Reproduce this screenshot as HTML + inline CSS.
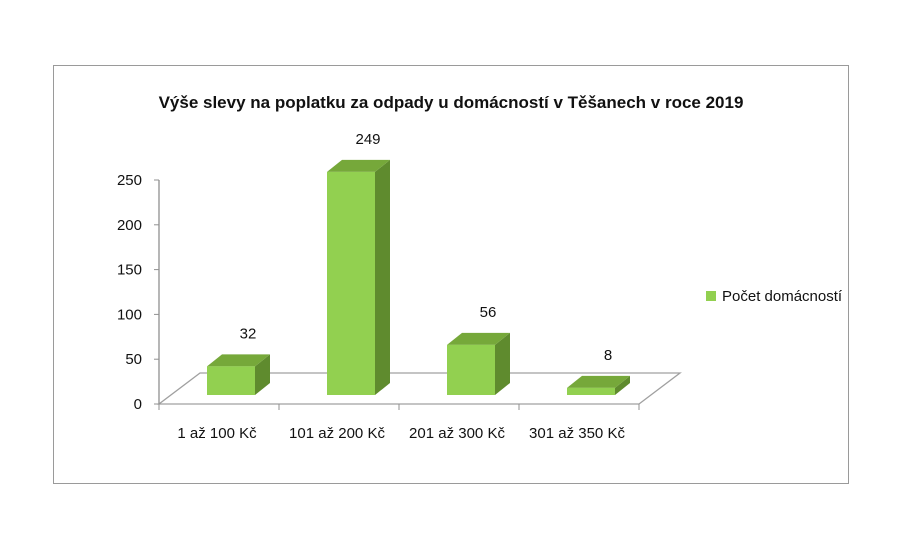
<!DOCTYPE html>
<html><head><meta charset="utf-8"><style>
body{margin:0;background:#fff;}
svg text{font-family:"Liberation Sans",sans-serif;}
</style></head><body>
<svg width="900" height="536" viewBox="0 0 900 536">
<rect x="53.5" y="65.5" width="795" height="418" fill="#fff" stroke="#9a9a9a"/>
<text x="451" y="108" text-anchor="middle" font-size="17" font-weight="bold" fill="#111">Výše slevy na poplatku za odpady u domácností v Těšanech v roce 2019</text>
<g id="axes"></g>
<g id="bars"></g>
<rect x="706" y="291" width="10" height="10" fill="#92d050"/>
<text x="722" y="301" font-size="15" fill="#111">Počet domácností</text>
</svg>
<script>
const categories=["1 až 100 Kč","101 až 200 Kč","201 až 300 Kč","301 až 350 Kč"];
const values=[32,249,56,8];
const yTicks=[0,50,100,150,200,250];
const NS="http://www.w3.org/2000/svg";
const svg=document.querySelector('svg');
const axes=document.getElementById('axes'),bars=document.getElementById('bars');
const x0=159,y0=404,ymax=250,yTop=180,slot=120,dx=41,dy=-31;
function yPos(v){return y0-(v/ymax)*(y0-yTop);}
function mk(tag,at,parent){const e=document.createElementNS(NS,tag);for(const k in at)e.setAttribute(k,at[k]);parent.appendChild(e);return e;}
// floor
const floor=mk('polygon',{points:`${x0},${y0} ${x0+slot*4},${y0} ${x0+slot*4+dx},${y0+dy} ${x0+dx},${y0+dy}`,fill:'none',stroke:'#a0a0a0','stroke-width':1.3},axes);


const ya=mk('line',{x1:x0,y1:yTop,x2:x0,y2:y0,stroke:'#909090','stroke-width':1.3},axes);


yTicks.forEach(t=>{
 const y=yPos(t);
 mk('line',{x1:x0-5,y1:y,x2:x0,y2:y,stroke:'#909090'},axes);
 const tx=mk('text',{x:142,y:y+5,'text-anchor':'end','font-size':15,fill:'#111'},axes);
 tx.textContent=t;
 
 
});
for(let i=0;i<=4;i++){mk('line',{x1:x0+i*slot,y1:y0,x2:x0+i*slot,y2:y0+6,stroke:'#909090'},axes);}
categories.forEach((c,i)=>{
 const tx=mk('text',{x:x0+i*slot+slot/2-2,y:438,'text-anchor':'middle','font-size':15,fill:'#111'},axes);
 tx.textContent=c;
 
 
});
const base=395,bw=48,sd=15,sdy=-12;
values.forEach((v,i)=>{
 const xl=x0+i*slot+48,top=base-(v/ymax)*(y0-yTop);
 const g=mk('g',{},bars);
 
 
 mk('polygon',{points:`${xl+bw},${base} ${xl+bw+sd},${base+sdy} ${xl+bw+sd},${top+sdy} ${xl+bw},${top}`,fill:'#5f8b2e'},g);
 mk('polygon',{points:`${xl},${top} ${xl+sd},${top+sdy} ${xl+bw+sd},${top+sdy} ${xl+bw},${top}`,fill:'#76a83a'},g);
 mk('rect',{x:xl,y:top,width:bw,height:base-top,fill:'#92d050'},g);
 const tx=mk('text',{x:xl+bw/2+17,y:top+sdy-16,'text-anchor':'middle','font-size':15,fill:'#111'},bars);
 tx.textContent=v;
 
 
});
</script>
</body></html>
